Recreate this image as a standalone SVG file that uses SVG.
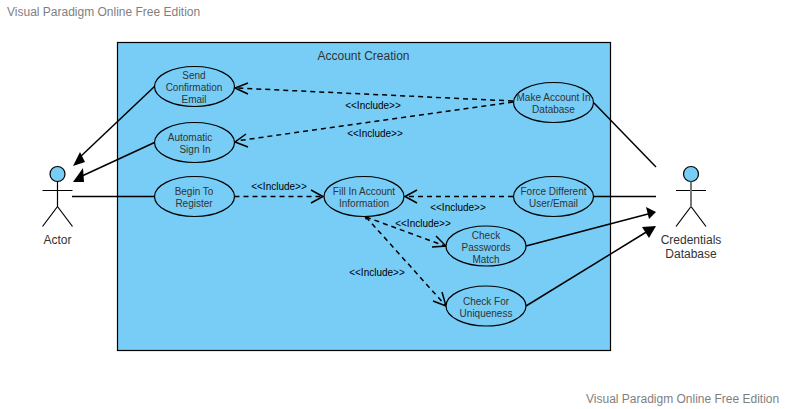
<svg xmlns="http://www.w3.org/2000/svg" width="785" height="409" viewBox="0 0 785 409">
<style>
text{font-family:"Liberation Sans",Arial,sans-serif;text-anchor:middle;fill:#333}
.uc{fill:#77cdf6;stroke:#000;stroke-width:1.2}
.t{font-size:10px}
.inc{font-size:10px;fill:#000}
.wm{font-size:12px;fill:#7f7f7f;text-anchor:start}
.s{fill:none;stroke:#000;stroke-width:1.5}
.d{fill:none;stroke:#000;stroke-width:1.5;stroke-dasharray:5 4}
.o{fill:none;stroke:#000;stroke-width:1.5}
.f{fill:#000;stroke:none}
.a{fill:none;stroke:#000;stroke-width:1.2}
</style>
<rect width="785" height="409" fill="#fff"/>
<text class="wm" x="7" y="16">Visual Paradigm Online Free Edition</text>
<text class="wm" x="586" y="403">Visual Paradigm Online Free Edition</text>
<g id="system">
<rect x="117.500" y="42.500" width="493" height="308" fill="#77cdf6" stroke="#000" stroke-width="1.2"/>
<text x="363.500" y="60" font-size="12">Account Creation</text>
</g>
<g id="connectors">
<path class="s" d="M154.500 86.500L79 158"/><path class="f" d="M73 166L80 152L85 162Z"/>
<path class="s" d="M154.500 142.500L82 176"/><path class="f" d="M73 182L83 168L84 182Z"/>
<path class="s" d="M72 196.500H154.500"/>
<path class="s" d="M594 103L656 167"/>
<path class="s" d="M594 196.500H656"/>
<path class="s" d="M526 246L648 214"/><path class="f" d="M656 212L646 207L649 219Z"/>
<path class="s" d="M526 306L648 231"/><path class="f" d="M656 226L642 227L649 238Z"/>
<path class="d" d="M513 101L236 88"/><path class="o" d="M248 83L235 88L248 94"/>
<path class="d" d="M513 102L236 141"/><path class="o" d="M246 134L235 142L248 147"/>
<path class="d" d="M234.500 196.500H323"/><path class="o" d="M311 190L323 196.500L311 203"/>
<path class="d" d="M513 196.500H405"/><path class="o" d="M417 190L405 196.500L417 203"/>
<path class="d" d="M366 217L445 246"/><path class="o" d="M436 236L446 246L432 247"/>
<path class="d" d="M366 217L446 306"/><path class="o" d="M442 292L446 306L433 301"/>
<path class="f" d="M364 216L369 217L366 220Z"/>
</g>
<g id="labels">
<text class="inc" x="373" y="108.500">&lt;&lt;Include&gt;&gt;</text>
<text class="inc" x="375" y="136.500">&lt;&lt;Include&gt;&gt;</text>
<text class="inc" x="279" y="190">&lt;&lt;Include&gt;&gt;</text>
<text class="inc" x="458" y="210.500">&lt;&lt;Include&gt;&gt;</text>
<text class="inc" x="423" y="227">&lt;&lt;Include&gt;&gt;</text>
<text class="inc" x="377" y="276">&lt;&lt;Include&gt;&gt;</text>
</g>
<g id="uc-send"><ellipse class="uc" cx="194.500" cy="86.500" rx="40" ry="20"/><text class="t" x="194" y="78.500">Send</text><text class="t" x="194" y="90.500">Confirmation</text><text class="t" x="194" y="102.500">Email</text></g>
<g id="uc-auto"><ellipse class="uc" cx="194.500" cy="142.500" rx="40" ry="20"/><text class="t" x="190" y="140.500">Automatic</text><text class="t" x="195" y="152.500">Sign In</text></g>
<g id="uc-begin"><ellipse class="uc" cx="194.500" cy="196.500" rx="40" ry="20"/><text class="t" x="194" y="194.500">Begin To</text><text class="t" x="194" y="206.500">Register</text></g>
<g id="uc-fill"><ellipse class="uc" cx="364" cy="196.500" rx="40" ry="20"/><text class="t" x="364" y="194.500">Fill In Account</text><text class="t" x="364" y="206.500">Information</text></g>
<g id="uc-make"><ellipse class="uc" cx="553.500" cy="102.500" rx="40" ry="20"/><text class="t" x="553.500" y="100.500">Make Account In</text><text class="t" x="553.500" y="112.500">Database</text></g>
<g id="uc-force"><ellipse class="uc" cx="553.500" cy="196.500" rx="40" ry="20"/><text class="t" x="553.500" y="194.500">Force Different</text><text class="t" x="553.500" y="206.500">User/Email</text></g>
<g id="uc-check"><ellipse class="uc" cx="486" cy="246" rx="40" ry="20"/><text class="t" x="486" y="238.500">Check</text><text class="t" x="486" y="250.500">Passwords</text><text class="t" x="486" y="262.500">Match</text></g>
<g id="uc-unique"><ellipse class="uc" cx="486" cy="306" rx="40" ry="20"/><text class="t" x="486" y="304.500">Check For</text><text class="t" x="486" y="316.500">Uniqueness</text></g>
<g id="actor">
<circle class="uc" cx="57.500" cy="174" r="7.500"/>
<path class="a" d="M57.500 181.500V206.500M42.500 190.500H72.500M57.500 206.500L42.500 226.500M57.500 206.500L72.500 226.500"/>
<text x="57.500" y="244" font-size="12">Actor</text>
</g>
<g id="credentials">
<circle class="uc" cx="691" cy="174" r="7.500"/>
<path class="a" d="M676 190.500H706M691 206.500L676 226.500M691 206.500L706 226.500"/>
<path d="M691 181.500V206.500" stroke="#777" stroke-width="2" fill="none"/>
<text x="691" y="244" font-size="12">Credentials</text>
<text x="691" y="258" font-size="12">Database</text>
</g>
</svg>
